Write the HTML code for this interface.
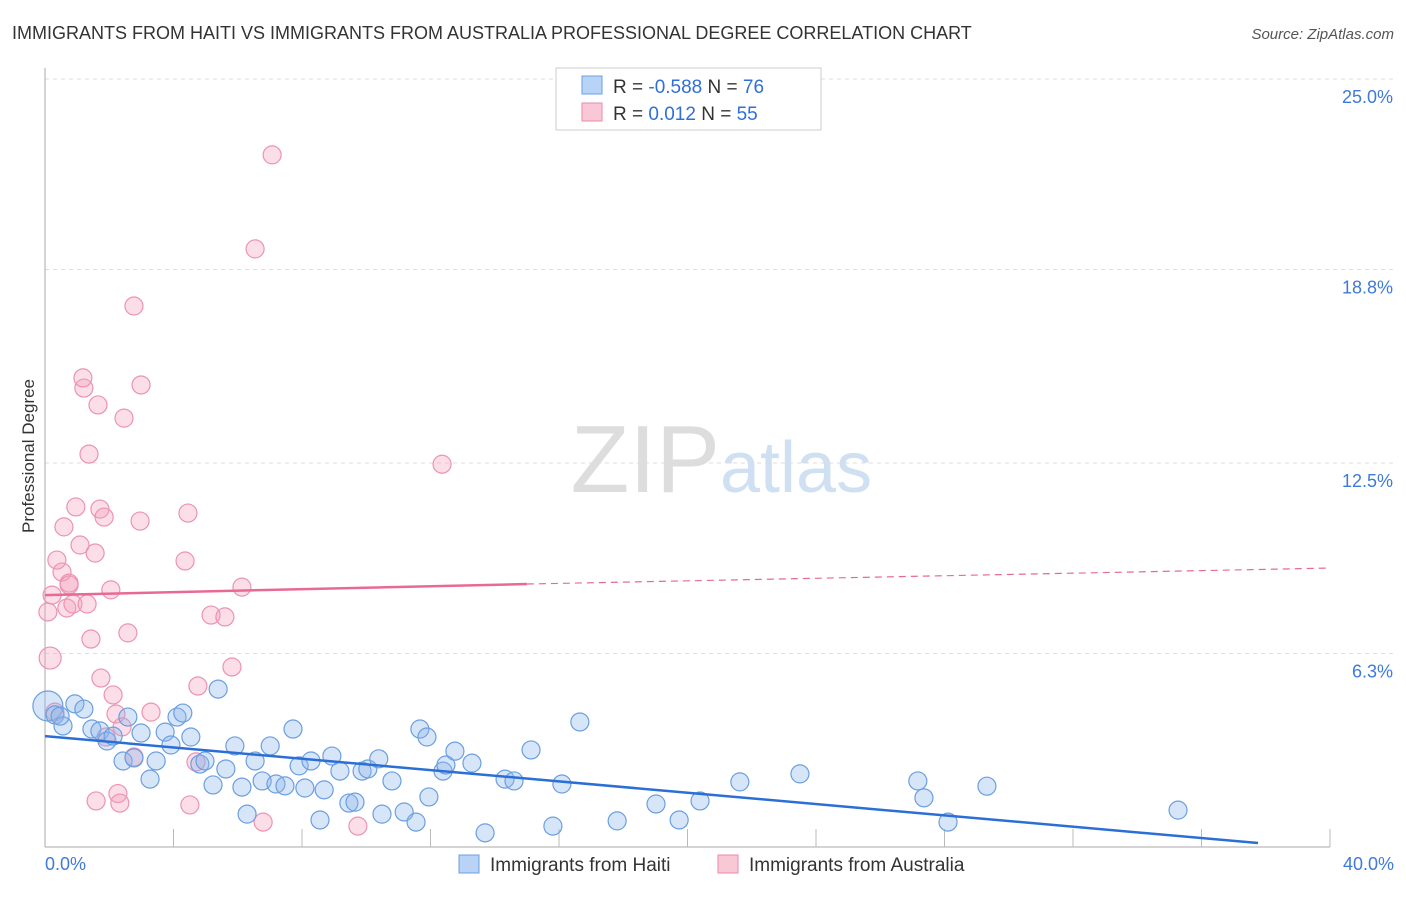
<!DOCTYPE html>
<html><head><meta charset="utf-8"><style>
body{margin:0;background:#fff;font-family:"Liberation Sans",sans-serif}
svg text{font-family:"Liberation Sans",sans-serif}
</style></head><body>
<svg id="c" width="1406" height="892">
<text x="12" y="39" font-size="18" fill="#333">IMMIGRANTS FROM HAITI VS IMMIGRANTS FROM AUSTRALIA PROFESSIONAL DEGREE CORRELATION CHART</text>
<text x="1394" y="39" font-size="15" fill="#555" text-anchor="end" font-style="italic">Source: ZipAtlas.com</text>
<text x="34" y="456" font-size="17" fill="#333" text-anchor="middle" transform="rotate(-90 34 456)">Professional Degree</text>
<text x="720" y="492" font-size="96" fill="#ddd" text-anchor="end" font-family="Liberation Serif">ZIP</text>
<text x="720" y="492" font-size="72" fill="#cfe0f3">atlas</text>
<g id="grid"></g><g id="pts"></g><g id="lines"></g>
<g>
<rect x="556" y="68" width="265" height="62" fill="#fff" stroke="#ccc"/>
<rect x="582" y="76" width="20" height="18" fill="#b8d3f5" stroke="#6a9fe0"/>
<rect x="582" y="103" width="20" height="18" fill="#f8c8d6" stroke="#e98aa8"/>
<text x="613" y="93" font-size="19" fill="#333">R = <tspan fill="#2f6fd6">-0.588</tspan>   N = <tspan fill="#2f6fd6">76</tspan></text>
<text x="613" y="120" font-size="19" fill="#333">R =   <tspan fill="#2f6fd6">0.012</tspan>   N = <tspan fill="#2f6fd6">55</tspan></text>
</g>
<g>
<rect x="459" y="855" width="20" height="18" fill="#b8d3f5" stroke="#6a9fe0"/>
<text x="490" y="871" font-size="19" fill="#333">Immigrants from Haiti</text>
<rect x="718" y="855" width="20" height="18" fill="#f8c8d6" stroke="#e98aa8"/>
<text x="749" y="871" font-size="19" fill="#333">Immigrants from Australia</text>
</g>
</svg>
<script>
const yTicks=[25,18.8,12.5,6.3];
const yTickLabels=["25.0%","18.8%","12.5%","6.3%"];
const xTickLabels=["0.0%","40.0%"];
const haitiX=[0.09,0.31,0.56,0.93,1.21,1.46,1.71,1.93,2.12,2.43,2.58,2.77,2.99,3.27,3.46,3.74,3.92,4.11,4.29,4.54,4.82,4.98,5.23,5.39,5.63,5.91,6.13,6.29,6.54,6.76,7.01,7.19,7.47,7.72,7.91,8.09,8.28,8.56,8.69,8.93,9.18,9.46,9.65,9.87,10.05,10.39,10.49,10.80,11.18,11.55,11.67,11.89,11.95,12.39,12.48,12.76,13.29,13.70,14.32,14.60,15.13,15.81,16.09,16.65,17.81,19.02,19.74,20.39,21.63,23.50,27.17,27.36,28.11,29.32,35.27,0.47];
const haitiY=[4.59,4.30,3.94,4.66,4.49,3.84,3.78,3.45,3.61,2.80,4.23,2.90,3.71,2.21,2.80,3.74,3.32,4.23,4.36,3.58,2.70,2.80,2.02,5.14,2.54,3.29,1.95,1.07,2.80,2.15,3.29,2.05,1.99,3.84,2.64,1.92,2.80,0.88,1.86,2.96,2.47,1.43,1.46,2.47,2.54,2.87,1.07,2.15,1.14,0.81,3.84,3.58,1.63,2.47,2.67,3.12,2.73,0.46,2.21,2.15,3.16,0.68,2.05,4.07,0.85,1.40,0.88,1.50,2.12,2.38,2.15,1.60,0.81,1.98,1.20,4.26];
const ausX=[0.16,0.09,0.22,0.37,0.53,0.59,0.75,0.68,0.87,0.75,0.96,1.09,1.21,1.18,1.31,1.37,1.43,1.56,1.65,1.71,1.74,1.84,1.90,2.05,2.12,2.21,2.27,2.33,2.40,2.46,2.58,2.77,2.77,2.96,2.99,3.30,4.36,4.45,4.51,4.70,4.76,5.17,5.60,5.82,6.13,6.54,6.79,7.07,9.74,12.36,1.59,0.31];
const ausY=[6.15,7.65,8.20,9.34,8.95,10.42,8.59,7.78,7.91,8.53,11.07,9.83,14.94,15.27,7.91,12.79,6.77,9.57,14.39,11.00,5.50,10.74,3.58,8.37,4.95,4.33,1.74,1.43,3.91,13.96,6.97,17.61,2.93,10.61,15.04,4.39,9.31,10.87,1.37,2.77,5.24,7.55,7.49,5.86,8.46,19.47,0.81,22.53,0.68,12.46,1.50,4.39];
const X=v=>45+v*32.125, Y=v=>847-v*30.72;
const ns="http://www.w3.org/2000/svg";
function mk(t,a,p){const e=document.createElementNS(ns,t);for(const k in a)e.setAttribute(k,a[k]);p.appendChild(e);return e;}
const grid=document.getElementById('grid');
yTicks.forEach((v,i)=>{
 const l=mk('line',{x1:45,x2:1394,y1:Y(v),y2:Y(v),stroke:'#ddd','stroke-dasharray':'4,4'},grid);
 
 
 const t=mk('text',{x:1393,y:Y(v)+24,'font-size':18,fill:'#3f7ad9','text-anchor':'end'},grid);t.textContent=yTickLabels[i];
 
 
});
mk('line',{x1:45,x2:45,y1:68,y2:847,stroke:'#aaa'},grid);
mk('line',{x1:45,x2:1330,y1:847,y2:847,stroke:'#aaa'},grid);
for(let i=1;i<=10;i++){const tk=mk('line',{x1:X(i*4),x2:X(i*4),y1:829,y2:847,stroke:'#bbb'},grid);
 
 }
[[0,'start',45],[40,'end',1394]].forEach((d,i)=>{const t=mk('text',{x:d[2],y:870,'font-size':18,fill:'#3f7ad9','text-anchor':d[1]},grid);t.textContent=xTickLabels[i];
 
 });
const pts=document.getElementById('pts');
ausX.forEach((x,i)=>{const c=mk('circle',{cx:X(x),cy:Y(ausY[i]),r:i==0?11:9,fill:'rgba(244,160,188,0.35)',stroke:'#ec93b0','stroke-width':1.2},pts);
 
 });
haitiX.forEach((x,i)=>{const c=mk('circle',{cx:X(x),cy:Y(haitiY[i]),r:i==0?15:9,fill:'rgba(140,180,235,0.35)',stroke:'#6a9fe0','stroke-width':1.2},pts);
 
 });
const lines=document.getElementById('lines');
const bl=mk('line',{x1:X(0),y1:Y(3.61),x2:X(37.76),y2:Y(0.13),stroke:'#2b6fd6','stroke-width':2.5},lines);


const pl=mk('line',{x1:X(0),y1:Y(8.2),x2:X(15),y2:Y(8.56),stroke:'#e86a93','stroke-width':2.5},lines);


const pd=mk('line',{x1:X(15),y1:Y(8.56),x2:X(40),y2:Y(9.08),stroke:'#e86a93','stroke-width':1.2,'stroke-dasharray':'7,5'},lines);


</script>
</body></html>
